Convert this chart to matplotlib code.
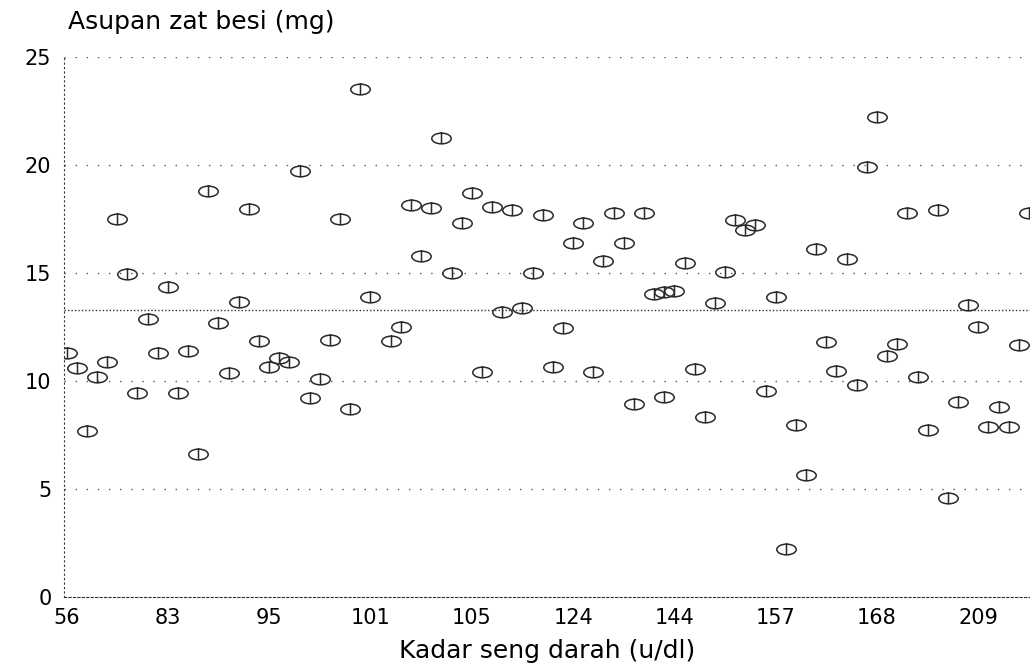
import numpy as np
from matplotlib import pyplot as plt
from matplotlib.path import Path

# urutan kategori kadar seng (sumbu x kategorikal) dan asupan zat besi
urutan = [0, 1, 2, 3, 4, 5, 6, 7, 8, 9,
          10, 11, 12, 13, 14, 15, 16, 17, 18, 19,
          20, 21, 22, 23, 24, 25, 26, 27, 28, 29,
          30, 32, 33, 34, 35, 36, 37, 38, 39,
          40, 41, 42, 43, 44, 45, 46, 47, 48, 49,
          50, 51, 52, 53, 54, 55, 56, 57, 58, 59, 59,
          60, 61, 62, 63, 64, 65, 66, 67, 68, 69,
          70, 71, 72, 73, 74, 75, 76, 77, 78, 79,
          80, 81, 82, 83, 84, 85, 86, 87, 88, 89,
          90, 91, 92, 93, 94, 95]
besi = [11.3, 10.6, 7.7, 10.2, 10.9, 17.5, 14.95, 9.45, 12.85, 11.3,
        14.35, 9.45, 11.4, 6.6, 18.8, 12.7, 10.35, 13.65, 17.95, 11.85,
        10.65, 11.05, 10.9, 19.7, 9.2, 10.1, 11.9, 17.5, 8.7, 23.5,
        13.9, 11.85, 12.5, 18.15, 15.8, 18.0, 21.25, 15.0, 17.3,
        18.7, 10.4, 18.05, 13.2, 17.9, 13.4, 15.0, 17.7, 10.65, 12.45,
        16.4, 17.3, 10.4, 15.55, 17.8, 16.4, 8.95, 17.8, 14.05, 14.1, 9.25,
        14.15, 15.45, 10.55, 8.35, 13.6, 15.05, 17.45, 17.0, 17.2, 9.55,
        13.9, 2.2, 7.95, 5.65, 16.1, 11.8, 10.45, 15.65, 9.8, 19.9,
        22.2, 11.15, 11.7, 17.8, 10.2, 7.75, 17.9, 4.6, 9.05, 13.5,
        12.5, 7.85, 8.8, 7.85, 11.65, 17.8]

posisi_label = [0, 10, 20, 30, 40, 50, 60, 70, 80, 90]
label_seng = ['56', '83', '95', '101', '105', '124', '144', '157', '168', '209']
garis_y = [5, 10, 15, 20, 25]
rata_rata = 13.3

# penanda elips dengan garis tegak (gaya SPSS)
lingkaran = Path.unit_circle()
elips = Path(lingkaran.vertices * [1.0, 0.55], lingkaran.codes)
garis = Path([[0, -0.55], [0, 0.62]], [Path.MOVETO, Path.LINETO])
penanda = Path.make_compound_path(elips, garis)

fig = plt.figure(figsize=(10.3, 6.72), dpi=100)
ax = fig.add_axes([64 / 1030, 75 / 672, 966 / 1030, 540 / 672])

for g in garis_y:
    ax.axhline(g, color='#555555', lw=1.0, ls=(0, (1, 7)), zorder=1)
ax.axhline(rata_rata, color='#333333', lw=1.0, ls=(0, (1, 1.5)), zorder=1)

ax.plot(urutan, besi, ls='none', marker=penanda, ms=14,
        mfc='none', mec='#2a2a2a', mew=1.1, zorder=3)

ax.set_xlim(-0.25, 95.1)
ax.set_ylim(0, 25)
ax.set_xticks(posisi_label)
ax.set_xticklabels(label_seng)
ax.set_yticks([0, 5, 10, 15, 20, 25])
ax.tick_params(axis='x', length=0, pad=8, labelsize=15)
ax.tick_params(axis='y', length=0, pad=9, labelsize=15)

ax.spines['top'].set_visible(False)
ax.spines['right'].set_visible(False)
ax.spines['left'].set_linestyle((0, (1, 3)))
ax.spines['left'].set_color('#333333')
ax.spines['bottom'].set_linestyle((0, (2, 2)))
ax.spines['bottom'].set_color('#333333')

ax.set_xlabel('Kadar seng darah (u/dl)', fontsize=18, labelpad=8)
fig.text(68 / 1030, 1 - 22 / 672, 'Asupan zat besi (mg)', fontsize=18,
         ha='left', va='center')

plt.savefig('out.png', dpi=100)
